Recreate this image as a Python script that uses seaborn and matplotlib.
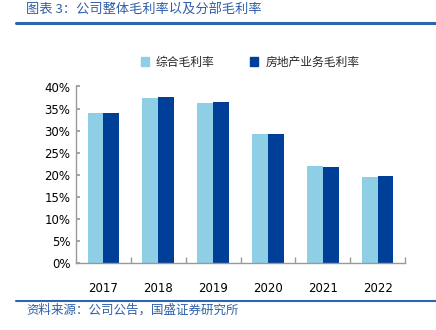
import matplotlib
matplotlib.use("Agg")
import matplotlib.pyplot as plt
import seaborn as sns
import pandas as pd
from matplotlib.lines import Line2D
from matplotlib.ticker import FuncFormatter

years = ["2017", "2018", "2019", "2020", "2021", "2022"]
overall = [34.1, 37.5, 36.3, 29.3, 21.9, 19.5]
property_dev = [34.1, 37.7, 36.6, 29.3, 21.8, 19.8]
series_names = ["综合毛利率", "房地产业务毛利率"]
yticks = [0, 5, 10, 15, 20, 25, 30, 35, 40]

sns.set_theme(style="white")
plt.rcParams['font.family'] = ['Noto Sans CJK SC', 'DejaVu Sans']

df = pd.DataFrame({
    "year": years * 2,
    "value": overall + property_dev,
    "series": [series_names[0]] * len(years) + [series_names[1]] * len(years),
})

fig = plt.figure(figsize=(4.36, 3.30), dpi=100)
ax = fig.add_axes([76 / 436, 1 - 263 / 330, (405 - 76) / 436, (263 - 86.5) / 330])

palette = {series_names[0]: "#8ECFE6", series_names[1]: "#003F98"}
sns.barplot(data=df, x="year", y="value", hue="series", palette=palette,
            width=0.58, gap=0, ax=ax, saturation=1, legend=False, linewidth=0)

ax.set_ylim(0, 40)
ax.set_xlim(-0.5, len(years) - 0.5)
ax.set_yticks(yticks)
ax.yaxis.set_major_formatter(FuncFormatter(lambda v, p: f"{int(v)}%"))
ax.set_xlabel("")
ax.set_ylabel("")

for s in ["top", "right"]:
    ax.spines[s].set_visible(False)
for s in ["left", "bottom"]:
    ax.spines[s].set_color("#999999")
    ax.spines[s].set_linewidth(1.0)

ax.tick_params(axis="y", direction="in", length=3, color="#999999", labelsize=8.5,
               left=True, pad=4, labelcolor="black")
ax.tick_params(axis="x", bottom=False, labelsize=8.5, pad=8, labelcolor="black")
for t in ax.get_xticklabels() + ax.get_yticklabels():
    t.set_fontfamily("DejaVu Sans")
ax.set_xticks([i + 0.5 for i in range(len(years))], minor=True)
ax.tick_params(axis="x", which="minor", direction="in", length=4, color="#999999", bottom=True)

handles = [plt.Rectangle((0, 0), 1, 1, color=palette[n]) for n in series_names]
fig.legend(handles, series_names, loc="center", bbox_to_anchor=(250 / 436, 1 - 62 / 330),
           ncol=2, frameon=False, fontsize=8.5, handlelength=0.7, handleheight=0.7,
           columnspacing=3.0, handletextpad=0.6)

fig.text(26 / 436, 1 - 9 / 330, "图表 3：公司整体毛利率以及分部毛利率", color="#2E5FA8",
         fontsize=9.5, style="italic", va="center", ha="left")
fig.add_artist(Line2D([16 / 436, 1], [1 - 22.5 / 330] * 2, color="#2E64B0", lw=2.2))
fig.add_artist(Line2D([16 / 436, 1], [1 - 301 / 330] * 2, color="#2E64B0", lw=1.5))
fig.text(26 / 436, 1 - 310 / 330, "资料来源：公司公告，国盛证券研究所", color="#2E5FA8",
         fontsize=9, style="italic", va="center", ha="left")

fig.savefig("out.png", dpi=100)
